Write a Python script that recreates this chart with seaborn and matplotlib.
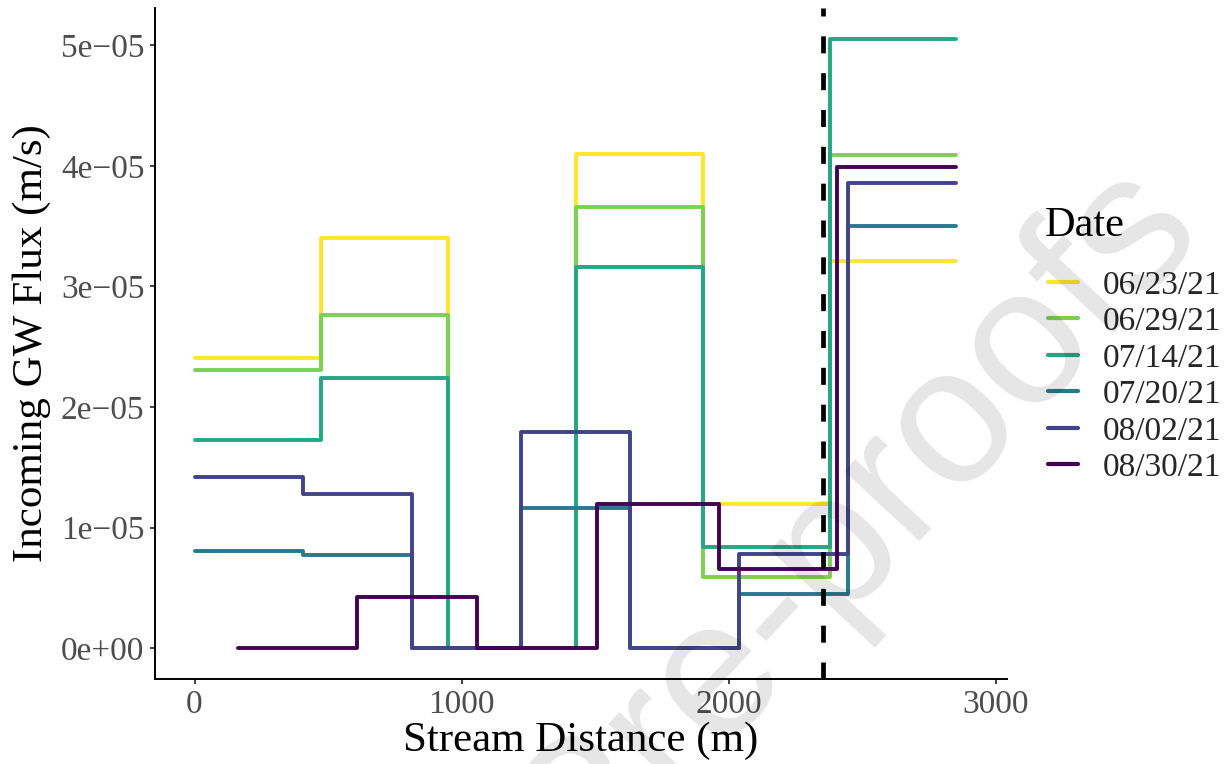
import matplotlib
matplotlib.use("Agg")
import matplotlib.pyplot as plt
import pandas as pd
import seaborn as sns

# Survey dates and their colours (viridis, reversed)
dates = ["06/23/21", "06/29/21", "07/14/21", "07/20/21", "08/02/21", "08/30/21"]
palette = ["#FDE725", "#7AD151", "#22A884", "#2A788E", "#414487", "#440154"]

# Reach boundaries along the stream (m) and incoming groundwater flux per reach (m/s)
dist_0623 = [0, 474, 950, 1427, 1902, 2379, 2851]
flux_0623 = [2.41e-5, 3.40e-5, 0.0, 4.10e-5, 1.20e-5, 3.21e-5]

dist_0629 = [0, 474, 950, 1427, 1902, 2379, 2851]
flux_0629 = [2.31e-5, 2.76e-5, 0.0, 3.66e-5, 0.59e-5, 4.09e-5]

dist_0714 = [0, 474, 950, 1427, 1902, 2379, 2851]
flux_0714 = [1.73e-5, 2.24e-5, 0.0, 3.16e-5, 0.84e-5, 5.05e-5]

dist_0720 = [0, 407, 816, 1223, 1630, 2038, 2446, 2851]
flux_0720 = [0.81e-5, 0.77e-5, 0.0, 1.16e-5, 0.0, 0.45e-5, 3.50e-5]

dist_0802 = [0, 407, 816, 1223, 1630, 2038, 2446, 2851]
flux_0802 = [1.42e-5, 1.28e-5, 0.0, 1.79e-5, 0.0, 0.78e-5, 3.86e-5]

dist_0830 = [163, 609, 1058, 1508, 1962, 2405, 2851]
flux_0830 = [0.0, 0.425e-5, 0.0, 1.20e-5, 0.66e-5, 3.99e-5]

dam_distance = 2354

x_ticks = [0, 1000, 2000, 3000]
y_ticks = [0.0, 1e-5, 2e-5, 3e-5, 4e-5, 5e-5]
y_tick_labels = ["0e+00", "1e\u221205", "2e\u221205", "3e\u221205", "4e\u221205", "5e\u221205"]

series = [
    (dist_0623, flux_0623), (dist_0629, flux_0629), (dist_0714, flux_0714),
    (dist_0720, flux_0720), (dist_0802, flux_0802), (dist_0830, flux_0830),
]

rows = []
for date, (d, f) in zip(dates, series):
    vals = list(f) + [f[-1]]  # hold the last reach value to the downstream end
    for x, y in zip(d, vals):
        rows.append({"Date": date, "Distance": x, "Flux": y})
df = pd.DataFrame(rows)

sns.set_theme(style="white")
serif = ["Liberation Serif", "DejaVu Serif"]
plt.rcParams["font.family"] = serif

fig = plt.figure(figsize=(12.29, 7.64), dpi=100)
ax = fig.add_axes([155 / 1229, 1 - 679 / 764, (1007 - 155) / 1229, (679 - 8.3) / 764])

sns.lineplot(data=df, x="Distance", y="Flux", hue="Date", hue_order=dates,
             palette=palette, estimator=None, sort=False, drawstyle="steps-post",
             linewidth=2.8, ax=ax, legend=True)
for ln in ax.lines:
    ln.set_solid_joinstyle("round")

ax.axvline(dam_distance, color="black", linewidth=3.4, linestyle=(0, (3.6, 4.2)), zorder=5)

ax.set_xlim(-148, 3042)
ax.set_ylim(-0.254e-5, 5.306e-5)
ax.set_xticks(x_ticks)
ax.set_xticklabels([str(t) for t in x_ticks])
ax.set_yticks(y_ticks)
ax.set_yticklabels(y_tick_labels)

for side in ["top", "right"]:
    ax.spines[side].set_visible(False)
for side in ["left", "bottom"]:
    ax.spines[side].set_color("black")
    ax.spines[side].set_linewidth(1.4)
ax.tick_params(axis="both", which="major", direction="out", length=3.6, width=1.3,
               color="#333333", labelsize=24, labelcolor="#4D4D4D", pad=4,
               left=True, bottom=True)
ax.grid(False)
ax.set_xlabel("")
ax.set_ylabel("")

fig.text(581 / 1229, 1 - 741 / 764, "Stream Distance (m)", ha="center", va="center",
         fontsize=31, color="black")
fig.text(32 / 1229, 1 - 343.5 / 764, "Incoming GW Flux (m/s)", ha="center", va="center",
         rotation=90, fontsize=31, color="black")

# Legend
handles, labels = ax.get_legend_handles_labels()
ax.get_legend().remove()
fig.text(1045 / 1229, 1 - 235.5 / 764, "Date", ha="left", va="baseline", fontsize=30.5,
         color="black")
leg = fig.legend(handles, labels, loc="upper left",
                 bbox_to_anchor=(1048 / 1229, 1 - 270 / 764), frameon=False,
                 fontsize=24, handlelength=0.9, handletextpad=0.75, labelspacing=0.18,
                 borderpad=0, borderaxespad=0)
for h in leg.get_lines():
    h.set_linewidth(3.0)

# Diagonal watermark
fig.text(581.7 / 1229, 1 - 886.7 / 764, "Pre-proofs", ha="left", va="baseline",
         rotation=47, rotation_mode="anchor", fontsize=140, color="black", alpha=0.1,
         family=["Liberation Sans", "DejaVu Sans"], zorder=10)

fig.savefig("out.png", dpi=100)
